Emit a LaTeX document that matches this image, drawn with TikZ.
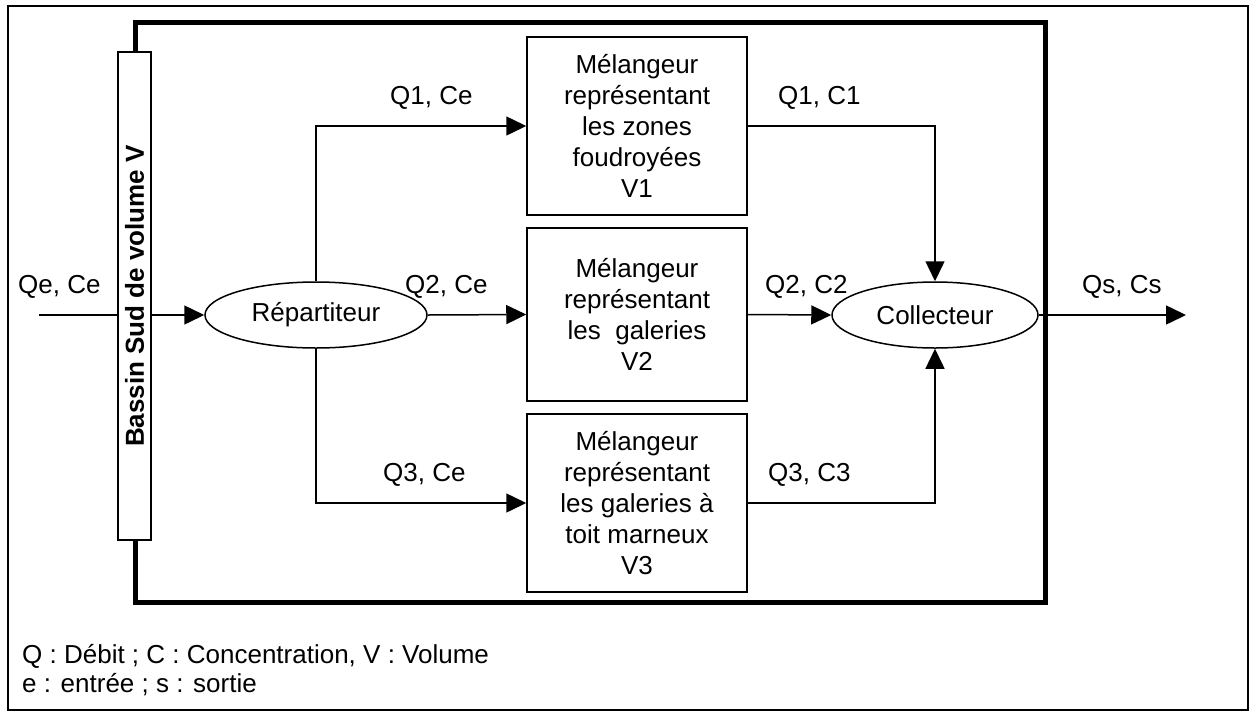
\documentclass[tikz,border=0pt]{standalone}
\usepackage{fontspec}
\setmainfont{Liberation Sans}
\usetikzlibrary{shapes.geometric,arrows.meta}

\tikzset{
  txt/.style={font=\fontsize{26}{31}\selectfont, inner sep=0pt},
  melange/.style={draw, line width=1.5pt, fill=white, rectangle, minimum width=220pt,
    align=center, txt},
  bulle/.style={draw, line width=1.5pt, ellipse, inner sep=0pt, minimum height=66pt, txt},
  fleche/.style={line width=1.5pt, -{Triangle[length=20pt,width=19pt]}},
}

\begin{document}
\begin{tikzpicture}[x=1pt,y=-1pt]

      % Cadre de l'image
      \useasboundingbox (0,0) rectangle (1249,710);
      \draw[line width=2pt] (8,6) rectangle (1248,710);

      % Systeme (cadre epais)
      \draw[line width=5pt] (135,22) rectangle (1045,602.5);

      % Bassin
      \node[draw, line width=1.5pt, fill=white, minimum width=33pt, minimum height=488pt,
        inner sep=0pt] (bassin) at (134.5,296) {};
      \node[txt, font=\fontsize{26}{31}\selectfont\bfseries, rotate=90] (bassintxt) at (134.5,296)
        {Bassin Sud de volume V};

      % Repartiteur et collecteur
      \node[bulle, minimum width=222pt] (rep) at (316,315) {Répartiteur};
      \node[bulle, minimum width=206pt] (col) at (935,315) {Collecteur};

      % Melangeurs
      \node[melange, minimum height=178pt] (mix1) at (637,126)
        {Mélangeur\\représentant\\les zones\\foudroyées\\V1};
      \node[melange, minimum height=173pt] (mix2) at (637,314.5)
        {Mélangeur\\représentant\\les\ \ galeries\\V2};
      \node[melange, minimum height=178pt] (mix3) at (637,503)
        {Mélangeur\\représentant\\les galeries à\\toit marneux\\V3};

      % Entree et sortie
      \coordinate (entree) at (39,315);
      \coordinate (sortie) at (1186,315);

      % Connexions
      \draw[line width=1.5pt] (entree) -- (entree -| bassin.west);
      \draw[fleche] (rep.west -| bassin.east) -- (rep.west);
      \draw[fleche] (rep.north) |- (mix1.west);
      \draw[fleche] (rep.east) -- (mix2.west);
      \draw[fleche] (rep.south) |- (mix3.west);
      \draw[fleche] (mix1.east) -| (col.north);
      \draw[fleche] (mix2.east) -- (col.west);
      \draw[fleche] (mix3.east) -| (col.south);
      \draw[fleche] (col.east) -- (sortie);

      % Debits et concentrations
      \node[txt, anchor=base west] (qe) at (18,293) {Qe, Ce};
      \node[txt, anchor=base west] (q1e) at (390,104) {Q1, Ce};
      \node[txt, anchor=base west] (q2e) at (405,293) {Q2, Ce};
      \node[txt, anchor=base west] (q3e) at (383,481) {Q3, Ce};
      \node[txt, anchor=base west] (q1s) at (778,104) {Q1, C1};
      \node[txt, anchor=base west] (q2s) at (765,293) {Q2, C2};
      \node[txt, anchor=base west] (q3s) at (768,481) {Q3, C3};
      \node[txt, anchor=base west] (qs) at (1082,293) {Qs, Cs};

      % Legende
      \node[txt, anchor=base west] (leg1) at (22,663) {Q : Débit ; C : Concentration, V : Volume};
      \node[txt, anchor=base west] (leg2) at (22,692) {e : entrée ; s : sortie};

    \end{tikzpicture}
\end{document}
